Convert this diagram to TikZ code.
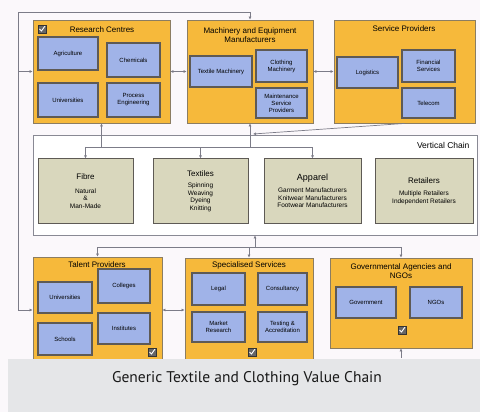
\documentclass[tikz,border=0pt]{standalone}
\usepackage{fontspec}
\setmainfont{Liberation Sans}
\newfontfamily\capfont{PT Sans}
\usetikzlibrary{arrows.meta,positioning}
\definecolor{pagebg}{HTML}{FBF8FB}
\definecolor{grouporange}{HTML}{F6B93B}
\definecolor{groupline}{HTML}{8B7D62}
\definecolor{unitblue}{HTML}{A0B3E8}
\definecolor{unitline}{HTML}{5E5A55}
\definecolor{stagebeige}{HTML}{D9D7BD}
\definecolor{linkgray}{HTML}{7C7C88}
\definecolor{bandgray}{HTML}{E5E6E8}

\begin{document}
\begin{tikzpicture}[x=1pt,y=-1pt,
    >={Latex[length=3pt,width=3pt]},
    group/.style={draw=groupline, fill=grouporange, line width=0.9pt},
    unit/.style={draw=unitline, fill=unitblue, line width=1.1pt, align=center, inner sep=1pt, font=\fontsize{6}{7}\selectfont},
    stage/.style={draw=unitline, fill=stagebeige, line width=1pt, align=center, minimum height=64pt, font=\fontsize{6.5}{7.5}\selectfont},
    heading/.style={align=center, font=\fontsize{8}{9.5}\selectfont},
    link/.style={draw=linkgray, line width=0.7pt},
    tickbox/.style={draw=black!80, fill=black!60, minimum size=8pt, inner sep=0pt,
      path picture={\draw[white, line width=0.9pt]
        ([xshift=-2.5pt]path picture bounding box.center) --
        ([xshift=-0.5pt,yshift=-2pt]path picture bounding box.center) --
        ([xshift=3pt,yshift=3pt]path picture bounding box.center);}}]
    \useasboundingbox (0,0) rectangle (480,412);
    \fill[pagebg] (0,0) rectangle (480,412);

    \node[draw=linkgray!90, fill=white, line width=0.8pt, minimum width=444pt, minimum height=100pt] (chain) at (255,185) {};
    \node[anchor=east, font=\fontsize{8.5}{10}\selectfont] (chainlabel) at (473,145) {Vertical Chain};

    \node[group, minimum width=137pt, minimum height=103pt] (rc) at (101.5,71.5) {};
    \node[heading] (rctitle) at (102,30) {Research Centres};
    \node[tickbox] (rctick) at (42,29) {};
    \node[unit, minimum width=60pt, minimum height=33pt] (agri) at (68,53.5) {Agriculture};
    \node[unit, minimum width=53pt, minimum height=34pt] (chem) at (133.5,60) {Chemicals};
    \node[unit, minimum width=60pt, minimum height=34pt] (univ) at (68,100) {Universities};
    \node[unit, minimum width=53pt, minimum height=34pt] (proc) at (133.5,100) {Process\\Engineering};

    \node[group, minimum width=126pt, minimum height=103pt] (mach) at (250,71.5) {};
    \node[heading] (machtitle) at (250,35) {Machinery and Equipment\\Manufacturers};
    \node[unit, minimum width=62pt, minimum height=31pt] (texmach) at (221,71.5) {Textile Machinery};
    \node[unit, minimum width=51pt, minimum height=32pt] (clothmach) at (281.5,66) {Clothing\\Machinery};
    \node[unit, minimum width=51pt, minimum height=30pt] (maint) at (281.5,103) {Maintenance\\Service\\Providers};

    \node[group, minimum width=141pt, minimum height=103pt] (sp) at (404.5,71.5) {};
    \node[heading] (sptitle) at (404,29) {Service Providers};
    \node[unit, minimum width=61pt, minimum height=31pt] (logi) at (367.5,72.5) {Logistics};
    \node[unit, minimum width=53pt, minimum height=32pt] (fin) at (428.5,66) {Financial\\Services};
    \node[unit, minimum width=53pt, minimum height=30pt] (tele) at (428.5,103) {Telecom};

    \node[stage, minimum width=95pt] (fibre) at (85.5,191) {{\fontsize{8}{9}\selectfont Fibre}\\[6pt]Natural\\\&\\Man-Made};
    \node[stage, minimum width=95pt] (textiles) at (200.5,191) {{\fontsize{8}{9}\selectfont Textiles}\\[4pt]Spinning\\Weaving\\Dyeing\\Knitting};
    \node[stage, minimum width=97pt] (apparel) at (312.5,191) {{\fontsize{9}{10}\selectfont Apparel}\\[5pt]Garment Manufacturers\\Knitwear Manufacturers\\Footwear Manufacturers};
    \node[stage, minimum width=98pt] (retail) at (424,191) {{\fontsize{8}{9}\selectfont Retailers}\\[5pt]Multiple Retailers\\Independent Retailers};

    \node[group, minimum width=129pt, minimum height=118pt] (talent) at (97.5,316) {};
    \node[heading] (talenttitle) at (97,265) {Talent Providers};
    \node[unit, minimum width=54pt, minimum height=31pt] (tuniv) at (65,297.5) {Universities};
    \node[unit, minimum width=52pt, minimum height=34pt] (coll) at (124,286) {Colleges};
    \node[unit, minimum width=54pt, minimum height=32pt] (school) at (65,339) {Schools};
    \node[unit, minimum width=52pt, minimum height=31pt] (inst) at (124,328.5) {Institutes};
    \node[tickbox] (talenttick) at (152,352) {};

    \node[group, minimum width=128pt, minimum height=117pt] (spec) at (249,316.5) {};
    \node[heading] (spectitle) at (249,265) {Specialised Services};
    \node[unit, minimum width=53pt, minimum height=32pt] (legal) at (218.5,289) {Legal};
    \node[unit, minimum width=49pt, minimum height=32pt] (cons) at (282.5,289) {Consultancy};
    \node[unit, minimum width=53pt, minimum height=30pt] (market) at (218.5,327) {Market\\Research};
    \node[unit, minimum width=49pt, minimum height=30pt] (test) at (282.5,327) {Testing \&\\Accreditation};
    \node[tickbox] (spectick) at (252,352) {};

    \node[group, minimum width=142pt, minimum height=90pt] (gov) at (401,303) {};
    \node[heading] (govtitle) at (401,271) {Governmental Agencies and\\NGOs};
    \node[unit, minimum width=60pt, minimum height=31pt] (govt) at (366,302.5) {Government};
    \node[unit, minimum width=52pt, minimum height=31pt] (ngo) at (436,302.5) {NGOs};
    \node[tickbox] (govtick) at (402,330) {};

    \coordinate (topleft) at (18,12);
    \coordinate (botleft) at (18,310);
    \draw[link,<->] (botleft -| talent.west) -- (botleft) -- (topleft) -| (mach.north);
    \draw[link,->] (rc.west -| topleft) -- (rc.west);
    \draw[link,<->] (rc.east) -- (mach.west);
    \draw[link,<->] (mach.east) -- (sp.west);
    \coordinate (upper) at (85.5,147);
    \draw[link,->] (upper) -- (fibre.north);
    \draw[link,->] (upper) -| (textiles.north);
    \draw[link,->] (upper) -| (apparel.north);
    \draw[link,->] (upper -| rc.south) -- (rc.south);
    \draw[link,->] (upper -| mach.south) -- (mach.south);
    \coordinate (spend) at (253,134);
    \draw[link,->] (sp.south) -- (spend);
    \coordinate (lower) at (255,247);
    \draw[link,->] (lower) -- (chain.south);
    \draw[link,->] (lower) -| (talent.north);
    \draw[link,->] (lower) -| (gov.north);
    \draw[link,->] (lower -| spec.north) -- (spec.north);
    \draw[link,<->] (botleft -| talent.east) -- (botleft -| spec.west);
    \coordinate (govin) at (401,358);
    \draw[link,->] (govin) -- (gov.south);

    \fill[bandgray] (8,359) rectangle (480,412);
    \node[font=\capfont\fontsize{15.5}{18}\selectfont, text=black!90] (caption) at (247,379) {Generic Textile and Clothing Value Chain};
\end{tikzpicture}
\end{document}
